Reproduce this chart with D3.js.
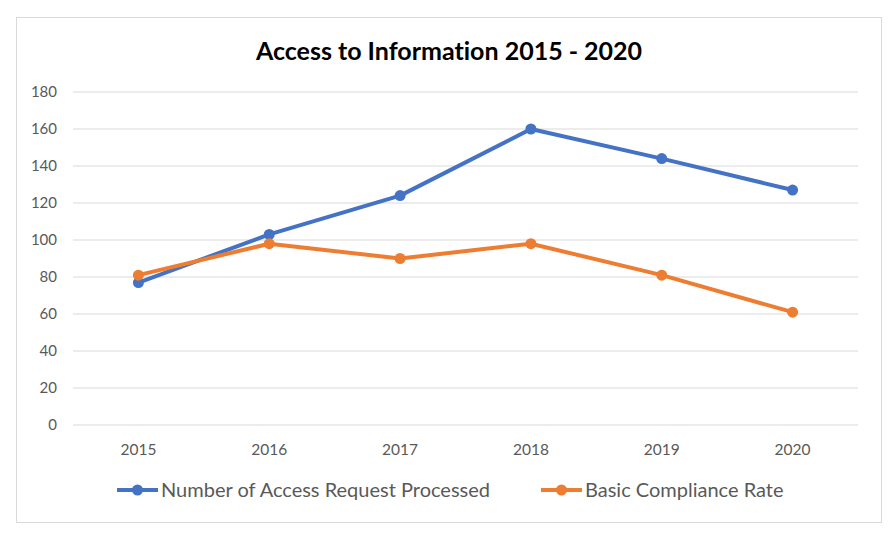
<!DOCTYPE html>
<html>
<head>
<meta charset="utf-8" />
<script src="https://d3js.org/d3.v7.min.js"></script>
<style>
  body { margin: 0; background: white; font-family: Lato, "Open Sans", sans-serif; }
  text { font-variant-ligatures: none; }
</style>
</head>
<body>
<div id="chart"></div>
<script>
  const years = ["2015", "2016", "2017", "2018", "2019", "2020"];
  const requests = [77, 103, 124, 160, 144, 127];
  const compliance = [81, 98, 90, 98, 81, 61];
  const yTicks = [0, 20, 40, 60, 80, 100, 120, 140, 160, 180];

  const series = [
    { name: "Number of Access Request Processed", values: requests, color: "#4472c4" },
    { name: "Basic Compliance Rate", values: compliance, color: "#ed7d31" }
  ];

  const width = 896, height = 533;
  const margin = { top: 92, right: 38, bottom: 108, left: 73 };

  const svg = d3.select("#chart").append("svg")
    .attr("width", width)
    .attr("height", height);

  // outer frame
  svg.append("rect")
    .attr("x", 16.5).attr("y", 17.5)
    .attr("width", 865).attr("height", 505)
    .attr("fill", "white")
    .attr("stroke", "#d9d9d9");

  const x = d3.scaleBand()
    .domain(years)
    .range([margin.left, width - margin.right]);

  const y = d3.scaleLinear()
    .domain([0, 180])
    .range([height - margin.bottom, margin.top]);

  // gridlines
  svg.append("g")
    .selectAll("line")
    .data(yTicks)
    .join("line")
      .attr("x1", margin.left)
      .attr("x2", width - margin.right)
      .attr("y1", d => y(d))
      .attr("y2", d => y(d))
      .attr("stroke", "#d9d9d9")
      .attr("stroke-width", 1.2);

  // y labels
  svg.append("g")
    .selectAll("text")
    .data(yTicks)
    .join("text")
      .attr("x", 57)
      .attr("y", d => y(d))
      .attr("dy", "0.35em")
      .attr("text-anchor", "end")
      .attr("font-size", 15)
      .attr("fill", "#595959")
      .text(d => d);

  // x labels
  svg.append("g")
    .selectAll("text")
    .data(years)
    .join("text")
      .attr("x", d => x(d) + x.bandwidth() / 2)
      .attr("y", 455)
      .attr("text-anchor", "middle")
      .attr("font-size", 15.5)
      .attr("fill", "#595959")
      .text(d => d);

  const line = d3.line()
    .x((d, i) => x(years[i]) + x.bandwidth() / 2)
    .y(d => y(d));

  series.forEach(s => {
    svg.append("path")
      .datum(s.values)
      .attr("fill", "none")
      .attr("stroke", s.color)
      .attr("stroke-width", 4)
      .attr("stroke-linejoin", "round")
      .attr("d", line);

    svg.append("g")
      .selectAll("circle")
      .data(s.values)
      .join("circle")
        .attr("cx", (d, i) => x(years[i]) + x.bandwidth() / 2)
        .attr("cy", d => y(d))
        .attr("r", 5.5)
        .attr("fill", s.color);
  });

  // title
  svg.append("text")
    .attr("x", 449)
    .attr("y", 60)
    .attr("text-anchor", "middle")
    .attr("font-size", 25)
    .attr("font-weight", "bold")
    .attr("fill", "black")
    .text("Access to Information 2015 - 2020");

  // legend
  const legendX = [117, 541];
  const legend = svg.append("g")
    .selectAll("g")
    .data(series)
    .join("g")
      .attr("transform", (d, i) => `translate(${legendX[i]},490)`);

  legend.append("line")
    .attr("x1", 0).attr("x2", 41)
    .attr("stroke", d => d.color)
    .attr("stroke-width", 4);

  legend.append("circle")
    .attr("cx", 20.5)
    .attr("r", 5.5)
    .attr("fill", d => d.color);

  legend.append("text")
    .attr("x", 44)
    .attr("dy", "0.35em")
    .attr("font-size", 20)
    .attr("fill", "#595959")
    .text(d => d.name);
</script>
</body>
</html>
